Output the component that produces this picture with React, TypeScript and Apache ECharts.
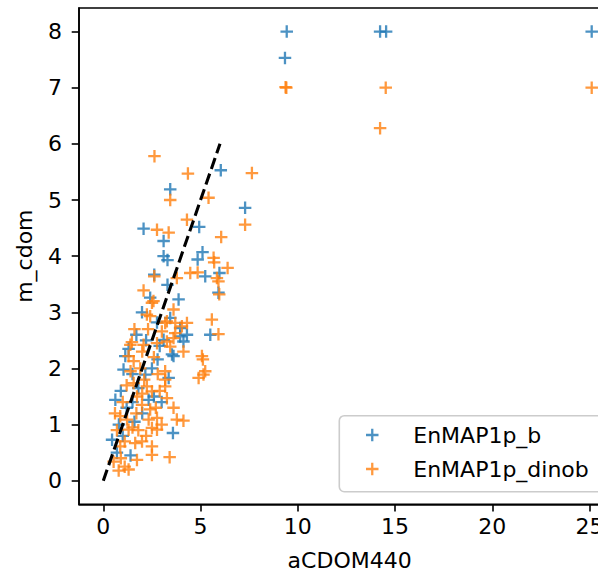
import React, { useEffect, useRef } from "react";
import * as echarts from "echarts";

const SERIES_NAMES = ["EnMAP1p_b", "EnMAP1p_dinob"];
const X_TICKS = [0, 5, 10, 15, 20, 25];
const Y_TICKS = [0, 1, 2, 3, 4, 5, 6, 7, 8];
const X_LABEL = "aCDOM440";
const Y_LABEL = "m_cdom";
const ONE_TO_ONE = [[0, 0], [6, 6]];

const blueData = [
  [9.43, 8.0], [9.34, 7.53], [14.23, 8.0], [14.54, 8.0], [25.11, 8.0],
  [6.04, 5.53], [3.44, 5.19], [7.29, 4.86], [2.07, 4.49], [4.93, 4.52],
  [3.1, 4.27], [3.1, 4.0], [5.1, 4.07], [3.3, 3.93], [4.85, 3.94],
  [5.24, 3.64], [5.97, 3.7], [2.62, 3.67], [3.3, 3.49], [5.92, 3.35],
  [3.87, 3.23], [2.41, 3.26], [1.99, 3.0], [2.76, 2.82], [3.44, 2.9],
  [3.95, 2.72], [4.3, 2.6], [5.5, 2.6], [3.1, 2.51], [4.12, 2.48],
  [3.53, 2.25], [3.61, 2.22], [1.13, 2.22], [2.79, 2.16], [1.04, 1.98],
  [2.16, 1.89], [3.36, 1.83], [2.33, 1.44], [0.62, 1.44], [0.45, 0.73],
  [3.58, 0.85], [3.95, 2.57], [1.3, 2.35], [1.5, 1.9], [0.9, 1.6],
  [1.8, 1.65], [2.0, 1.2], [1.2, 1.3], [0.8, 1.0], [1.6, 1.05],
  [1.0, 0.8], [2.2, 2.5], [2.5, 2.0], [1.7, 2.6], [2.9, 2.4],
  [0.7, 0.5], [1.4, 0.45], [2.6, 1.5], [3.0, 1.4], [1.5, 1.4],
];

const orangeData = [
  [9.37, 7.01], [9.41, 7.0], [14.52, 7.0], [14.23, 6.28], [25.11, 7.0],
  [2.63, 5.78], [4.35, 5.47], [7.64, 5.48], [3.44, 5.0], [5.41, 5.04],
  [7.29, 4.56], [4.3, 4.65], [2.76, 4.47], [3.36, 4.42], [6.06, 4.34],
  [5.67, 3.97], [5.7, 3.89], [6.39, 3.79], [4.47, 3.7], [4.85, 3.71],
  [5.84, 3.61], [2.62, 3.64], [3.78, 3.61], [2.07, 3.39], [5.92, 3.55],
  [5.96, 3.32], [2.5, 3.17], [2.41, 2.93], [3.61, 3.05], [5.58, 2.87],
  [4.3, 2.81], [3.27, 2.84], [2.58, 3.2], [2.24, 2.96], [3.18, 2.81],
  [3.7, 2.81], [4.04, 2.75], [3.01, 2.66], [3.7, 2.63], [5.92, 2.61],
  [1.47, 2.47], [2.07, 2.42], [2.76, 2.45], [3.27, 2.48], [3.61, 2.54],
  [3.44, 2.39], [4.12, 2.3], [5.07, 2.22], [1.3, 2.22], [5.12, 2.16],
  [5.24, 1.95], [4.9, 1.83], [5.15, 1.89], [3.61, 1.3], [3.78, 1.09],
  [4.12, 1.07], [3.41, 0.42], [2.76, 0.91], [2.76, 1.12], [3.27, 1.47],
  [3.18, 1.68], [3.18, 1.8], [3.18, 1.95], [2.5, 1.59], [2.41, 1.27],
  [2.5, 0.94], [1.99, 0.7], [2.5, 0.61], [2.5, 0.46], [1.73, 0.37],
  [1.3, 0.2], [0.79, 0.18], [0.53, 0.34], [0.87, 0.61], [0.87, 1.15],
  [1.39, 2.42], [1.56, 2.13], [1.56, 1.74], [1.73, 1.5], [1.22, 1.09],
  [1.3, 0.91], [1.64, 0.67], [2.33, 1.09], [1.99, 1.35], [2.24, 1.68],
  [1.0, 1.4], [1.2, 1.7], [1.4, 1.95], [1.9, 2.0], [2.1, 1.8],
  [2.0, 1.55], [1.7, 1.2], [1.5, 0.95], [1.1, 0.7], [0.7, 0.9],
  [0.9, 0.4], [1.8, 0.9], [2.2, 0.8], [2.8, 1.9], [2.6, 2.2],
  [2.9, 1.6], [1.6, 2.7], [2.3, 2.7], [0.6, 1.2], [1.1, 0.25],
  [2.0, 2.3], [2.7, 1.3], [3.0, 1.0],
];

const PLUS = "path://M4.9,0H7.1V4.9H12V7.1H7.1V12H4.9V7.1H0V4.9H4.9Z";
const FONT = "DejaVu Sans";
const FS = 22;

export default function App() {
  const ref = useRef<HTMLDivElement>(null);
  useEffect(() => {
    if (!ref.current) return;
    const chart = echarts.init(ref.current, null, { renderer: "svg" });
    chart.setOption({
      animation: false,
      backgroundColor: "#ffffff",
      textStyle: { fontFamily: FONT },
      grid: {
        left: 79,
        top: 8,
        right: -22.3,
        bottom: 68.7,
        show: true,
        borderColor: "#000",
        borderWidth: 1.6,
        containLabel: false,
        outerBoundsMode: "none",
      },
      xAxis: {
        type: "value",
        min: -1.25,
        max: 26.58,
        name: X_LABEL,
        nameLocation: "middle",
        nameGap: 45,
        nameTextStyle: { fontFamily: FONT, fontSize: FS, color: "#000" },
        axisLine: { show: true, onZero: false, lineStyle: { color: "#000", width: 1.6 } },
        axisTick: { show: true, length: 7.3, lineStyle: { color: "#000", width: 1.6 }, customValues: X_TICKS },
        axisLabel: { fontFamily: FONT, fontSize: FS, color: "#000", margin: 11, customValues: X_TICKS },
        splitLine: { show: false },
      },
      yAxis: {
        type: "value",
        min: -0.42,
        max: 8.42,
        name: Y_LABEL,
        nameLocation: "middle",
        nameGap: 44,
        nameRotate: 90,
        nameTextStyle: { fontFamily: FONT, fontSize: FS, color: "#000" },
        axisLine: { show: true, onZero: false, lineStyle: { color: "#000", width: 1.6 } },
        axisTick: { show: true, length: 7.3, lineStyle: { color: "#000", width: 1.6 }, customValues: Y_TICKS },
        axisLabel: { fontFamily: FONT, fontSize: FS, color: "#000", margin: 17, customValues: Y_TICKS },
        splitLine: { show: false },
      },
      legend: {
        data: SERIES_NAMES,
        orient: "vertical",
        left: 361,
        top: 418,
        padding: 5,
        itemWidth: 72,
        itemHeight: 12.5,
        itemGap: 10,
        icon: PLUS,
        textStyle: {
          fontFamily: FONT,
          fontSize: FS,
          color: "#000",
          lineHeight: 24,
          width: 172,
          overflow: "none",
        },
        z: 5,
      },
      graphic: [
        {
          type: "rect",
          z: 4,
          shape: { x: 339.3, y: 415.7, width: 271, height: 76, r: 5 },
          style: { fill: "rgba(255,255,255,0.8)", stroke: "#cccccc", lineWidth: 1.6 },
        },
      ],
      series: [
        {
          name: SERIES_NAMES[0],
          type: "scatter",
          symbol: PLUS,
          symbolSize: 12.5,
          itemStyle: { color: "#1f77b4" },
          data: blueData,
          z: 2,
        },
        {
          name: SERIES_NAMES[1],
          type: "scatter",
          symbol: PLUS,
          symbolSize: 12.5,
          itemStyle: { color: "#ff7f0e" },
          data: orangeData,
          z: 2,
        },
        {
          name: "1:1",
          type: "line",
          data: ONE_TO_ONE,
          symbol: "none",
          lineStyle: { color: "#000", width: 3.1, type: [11.5, 5] },
          z: 3,
        },
      ],
    });
    return () => chart.dispose();
  }, []);
  return (
    <div
      ref={ref}
      style={{ position: "fixed", left: 0, top: 0, width: 598, height: 573 }}
    />
  );
}
